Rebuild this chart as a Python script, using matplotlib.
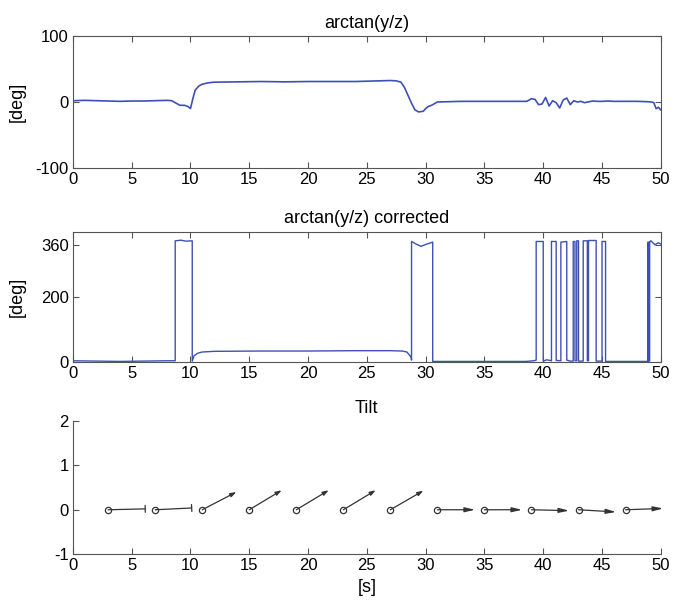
import matplotlib
matplotlib.use('Agg')
import matplotlib.pyplot as plt
import numpy as np

plt.rcParams['font.family'] = ['Liberation Sans', 'DejaVu Sans']
plt.rcParams['axes.unicode_minus'] = False

# --- arctan(y/z), deg ---
ang_t = [0, 1, 2, 3, 4, 5, 6, 7, 8, 8.4, 8.8, 9.1, 9.5, 9.8, 10.0,
         10.2, 10.4, 10.7, 11.0, 11.5, 12, 14, 16, 18, 20, 22, 24, 26, 27,
         27.5, 27.9, 28.2, 28.5, 28.8, 29.1, 29.4, 29.8, 30.0, 30.2, 30.5,
         31, 33, 35, 37, 38.6, 39.0, 39.3, 39.6, 39.9, 40.2, 40.5, 40.8,
         41.1, 41.4, 41.7, 42.0, 42.3, 42.6, 42.9, 43.2, 43.5, 43.8, 44.2,
         44.6, 45.0, 45.5, 46, 47, 48, 48.8, 49.2, 49.4, 49.6, 49.8, 50]
ang_v = [2, 2.5, 2, 1.5, 1, 1.5, 1.5, 2, 2.5, 2, -2, -5, -5, -7, -10,
         5, 18, 24, 27, 29, 30, 30.5, 31, 30.5, 31, 31, 31, 32, 32.5,
         32, 30, 22, 10, -2, -12, -15, -14, -10, -7, -5,
         0, 1, 1, 1, 1, 5, 4, -4, -3, 7, -6, 2,
         -1, -9, 3, 6, -4, 2, 0, 1, -1, 0, 1.5,
         1, 1, 1.5, 1, 1, 1, 0.5, 0, -1, -10, -8, -12]

# --- arctan(y/z) corrected, deg ---
cor_t = [0, 2, 4, 6, 8, 8.7, 8.7, 9.2, 9.6, 10.15, 10.15, 10.3, 10.6, 11,
         12, 16, 20, 24, 27, 28.0, 28.4, 28.75, 28.8, 28.8, 29.2, 29.6,
         30.1, 30.6, 30.6, 32, 35, 38.5, 39.2, 39.4, 39.4, 40.0, 40.0,
         40.3, 40.7, 40.7, 41.1, 41.1, 41.5, 41.5, 42.0, 42.0, 42.3,
         42.55, 42.55, 42.7, 42.7, 42.85, 42.85, 43.0, 43.0, 43.4, 43.4,
         43.75, 43.75, 43.85, 43.85, 44.5, 44.5, 45.0, 45.0, 45.3, 45.3,
         47, 48.9, 48.9, 48.95, 48.95, 49.05, 49.05, 49.15, 49.15, 49.5,
         49.8, 50]
cor_v = [3, 2, 1, 2, 3, 3, 372, 374, 371, 372, 2, 18, 26, 30,
         32, 33, 33, 34, 34, 33, 30, 15, 5, 370, 362, 355,
         362, 368, 1, 1, 1, 1, 3, 5, 370, 370, 2,
         6, 3, 370, 370, 4, 3, 368, 370, 5, 2,
         2, 370, 370, 3, 3, 372, 372, 2, 2, 372,
         372, 3, 3, 373, 373, 2, 2, 370, 370, 1,
         1, 1, 368, 368, 2, 2, 370, 370, 372, 360,
         366, 362]

# --- tilt arrows ---
tilt_x = [3, 7, 11, 15, 19, 23, 27, 31, 35, 39, 43, 47]
tilt_u = [3.15, 3.1, 2.9, 2.75, 2.75, 2.75, 2.8, 3.2, 3.2, 3.2, 3.2, 3.2]
tilt_v = [0.02, 0.04, 0.40, 0.44, 0.44, 0.44, 0.43, 0.0, 0.0, -0.02, -0.05, 0.03]

blue = '#3f50b4'
spine = '#555555'

fig = plt.figure(figsize=(6.75, 6.09), dpi=100)
ax1 = fig.add_axes([0.108, 0.724, 0.871, 0.217])
ax2 = fig.add_axes([0.108, 0.406, 0.871, 0.2135])
ax3 = fig.add_axes([0.108, 0.0903, 0.871, 0.218])

for ax in (ax1, ax2, ax3):
    ax.set_xlim(0, 50)
    ax.set_xticks(np.arange(0, 51, 5))
    ax.tick_params(direction='in', labelsize=12, length=4, colors=spine,
                   labelcolor='black', pad=3)
    for s in ax.spines.values():
        s.set_color(spine)
        s.set_linewidth(0.8)

for ax in (ax1, ax2):
    ax.tick_params(top=True, right=True)

ax1.plot(ang_t, ang_v, color=blue, lw=1.2)
ax1.set_ylim(-100, 100)
ax1.set_yticks([-100, 0, 100])
ax1.set_title('arctan(y/z)', fontsize=13, pad=6)
ax1.set_ylabel('[deg]', fontsize=13)
ax1.yaxis.set_label_coords(-0.08, 0.5)

ax2.plot(cor_t, cor_v, color=blue, lw=1.0)
ax2.set_ylim(0, 400)
ax2.set_yticks([0, 200, 360])
ax2.set_title('arctan(y/z) corrected', fontsize=13, pad=6)
ax2.set_ylabel('[deg]', fontsize=13)
ax2.yaxis.set_label_coords(-0.08, 0.5)

ax3.spines['top'].set_visible(False)
ax3.spines['right'].set_visible(False)
ax3.set_ylim(-1, 2)
ax3.set_yticks([-1, 0, 1, 2])
for i, (x, u, v) in enumerate(zip(tilt_x, tilt_u, tilt_v)):
    if i < 2:
        props = dict(arrowstyle='-[, widthB=0.25, lengthB=0', color='#333333',
                     lw=0.9, shrinkA=0, shrinkB=0)
    elif i < 7:
        props = dict(arrowstyle='-|>, head_length=0.35, head_width=0.12',
                     color='#333333', lw=0.9, shrinkA=0, shrinkB=0)
    else:
        props = dict(arrowstyle='-|>, head_length=0.6, head_width=0.14',
                     color='#333333', lw=0.9, shrinkA=0, shrinkB=0)
    ax3.annotate('', xy=(x + u, v), xytext=(x, 0), arrowprops=props,
                 annotation_clip=False)
ax3.plot(tilt_x, [0] * len(tilt_x), 'o', mfc='white', mec='#333333',
         ms=4.5, mew=0.9)
ax3.set_title('Tilt', fontsize=13, pad=6)
ax3.set_xlabel('[s]', fontsize=13, labelpad=4)

fig.savefig('out.png', dpi=100)
